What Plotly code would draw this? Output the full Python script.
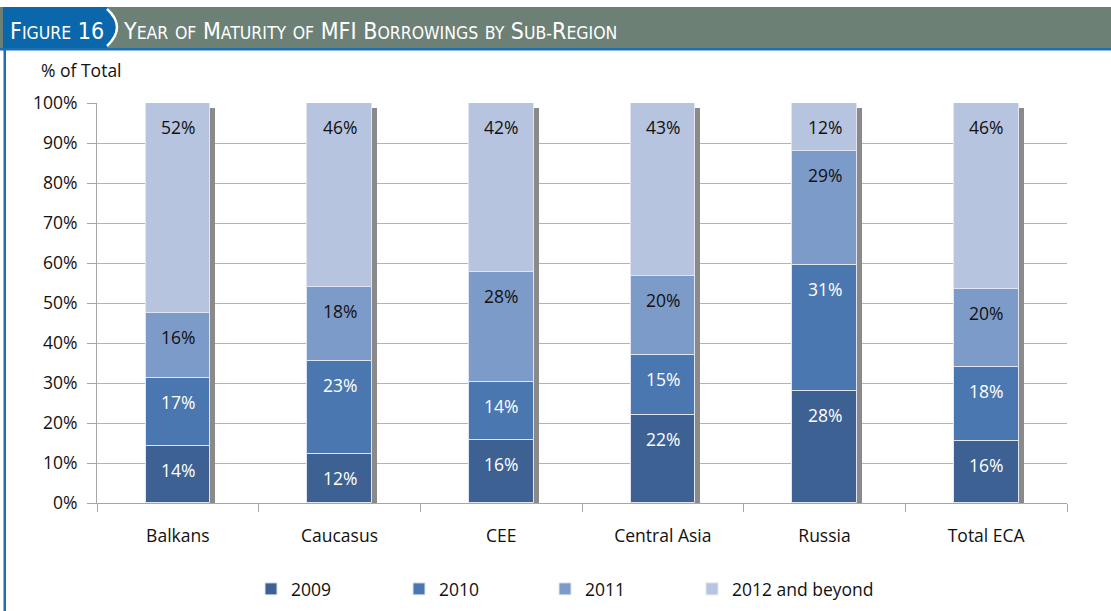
import plotly.graph_objects as go
import numpy as np

categories = ["Balkans", "Caucasus", "CEE", "Central Asia", "Russia", "Total ECA"]
series_names = ["2009", "2010", "2011", "2012 and beyond"]
v2009 = [14.2, 12.3, 15.8, 22.0, 28.0, 15.6]
v2010 = [17.1, 23.2, 14.4, 15.0, 31.4, 18.4]
v2011 = [16.3, 18.4, 27.6, 19.8, 28.6, 19.6]
v2012 = [52.4, 46.1, 42.2, 43.2, 12.0, 46.4]
y_ticks = [0, 10, 20, 30, 40, 50, 60, 70, 80, 90, 100]
y_ticklabels = [f"{t}%" for t in y_ticks]

series = [v2009, v2010, v2011, v2012]
colors = ["#3c6192", "#4a77b0", "#7d9bc9", "#b6c4df"]
text_colors = ["#ffffff", "#ffffff", "#111111", "#111111"]

FONT = "'Open Sans', sans-serif"
FS = 17.5
W, H = 1111, 611
L, R, T, B = 97, 44, 103, 108
pw, ph = W - L - R, H - T - B

def px(x):
    return (x - L) / pw

def py(y):
    return (H - B - y) / ph

fig = go.Figure()

totals = np.sum(np.array(series), axis=0)
bar_w = 0.40
shift = 5 / (pw / len(categories))
# shadow
fig.add_trace(go.Bar(
    x=categories, y=totals - 1.25, width=bar_w, offset=-bar_w / 2 + shift,
    marker=dict(color="#8a8a8a", line=dict(width=0)), showlegend=False, hoverinfo="skip"))

legend_x = [251, 399, 545, 692]
legend_ids = ["legend", "legend2", "legend3", "legend4"]

base = np.zeros(len(categories))
annotations = []
for name, vals, col, tc, lid in zip(series_names, series, colors, text_colors, legend_ids):
    vals = np.array(vals)
    fig.add_trace(go.Bar(
        x=categories, y=vals, base=base, width=bar_w, name=name, legend=lid,
        marker=dict(color=col, line=dict(color="#dfe6f1", width=1))))
    tops = base + vals
    for c, t, v in zip(categories, tops, vals):
        annotations.append(dict(x=c, y=t, xref="x", yref="y", yshift=-24,
                                text=f"{v:.0f}%", showarrow=False,
                                font=dict(family=FONT, size=FS, color=tc)))
    base = tops

# header title (small caps)
BIG, SMALL = 23, 17.5
def sc(word):
    return f"<span style='font-size:{BIG}px'>{word[0]}</span><span style='font-size:{SMALL}px'>{word[1:].upper()}</span>"

title_words = ["Year", "of", "Maturity", "of", "MFI", "Borrowings", "by", "Sub-Region"]
def word_fmt(w):
    if w in ("of", "by"):
        return f"<span style='font-size:{SMALL}px'>{w.upper()}</span>"
    if w == "MFI":
        return f"<span style='font-size:{BIG}px'>MFI</span>"
    if w == "Sub-Region":
        return sc("Sub") + f"<span style='font-size:{SMALL}px'>-</span>" + sc("Region")
    return sc(w)
title_text = " ".join(word_fmt(w) for w in title_words)
fig_text = sc("Figure") + f" <span style='font-size:{BIG}px'>16</span>"

HFONT = "'Liberation Sans Narrow', 'DejaVu Sans Condensed', sans-serif"
annotations += [
    dict(x=px(8), y=py(31), xref="paper", yref="paper", xanchor="left", yanchor="middle",
         text=fig_text, showarrow=False, font=dict(family=HFONT, size=BIG, color="white")),
    dict(x=px(121), y=py(31), xref="paper", yref="paper", xanchor="left", yanchor="middle",
         text=title_text, showarrow=False, font=dict(family=HFONT, size=BIG, color="white")),
    dict(x=px(39), y=py(70), xref="paper", yref="paper", xanchor="left", yanchor="middle",
         text="% of Total", showarrow=False, font=dict(family=FONT, size=FS, color="#111111")),
]

shapes = [
    dict(type="rect", xref="paper", yref="paper", x0=px(0), x1=px(W), y0=py(48), y1=py(7),
         fillcolor="#6c8075", line=dict(width=0), layer="below"),
    dict(type="path", xref="paper", yref="paper",
         path=(f"M {px(3)},{py(7)} L {px(107)},{py(7)} Q {px(127)},{py(27)} {px(107)},{py(48)} "
               f"L {px(3)},{py(48)} Z"),
         fillcolor="#0a67ab", line=dict(width=0), layer="below"),
    dict(type="rect", xref="paper", yref="paper", x0=px(0), x1=px(W), y0=py(50.5), y1=py(48),
         fillcolor="#1a6fb5", line=dict(width=0), layer="below"),
    dict(type="rect", xref="paper", yref="paper", x0=px(3.5), x1=px(6), y0=py(H), y1=py(48),
         fillcolor="#1a6fb5", line=dict(width=0), layer="below"),
    dict(type="path", xref="paper", yref="paper",
         path=f"M {px(107)},{py(9)} Q {px(127)},{py(27)} {px(107)},{py(46)}",
         line=dict(color="white", width=2.5), layer="above"),
]

leg_common = dict(orientation="h", y=py(589), xanchor="left", yanchor="middle",
                  font=dict(family=FONT, size=FS, color="#111111"), bgcolor="rgba(0,0,0,0)")
fig.update_layout(
    width=W, height=H, margin=dict(l=L, r=R, t=T, b=B, autoexpand=False),
    paper_bgcolor="white", plot_bgcolor="white",
    barmode="overlay", bargap=0,
    font=dict(family=FONT, size=FS, color="#111111"),
    annotations=annotations, shapes=shapes,
    showlegend=True,
)
for lid, lx in zip(legend_ids, legend_x):
    fig.update_layout({lid: dict(x=px(lx), **leg_common)})

fig.update_xaxes(type="category", showline=True, linecolor="#a6a6a6", linewidth=1,
                 ticks="outside", tickson="boundaries", ticklen=8, tickcolor="#a6a6a6",
                 showgrid=False, ticklabelstandoff=17, tickfont=dict(size=FS))
fig.update_yaxes(range=[0, 100], tickvals=y_ticks, ticktext=y_ticklabels,
                 showline=True, linecolor="#a6a6a6", linewidth=1,
                 ticks="outside", ticklen=9, tickcolor="#a6a6a6",
                 showgrid=True, gridcolor="#b3b3b3", gridwidth=1, zeroline=False,
                 ticklabelstandoff=6, tickfont=dict(size=FS))

fig.write_html("out.html", config={"displayModeBar": False},
               post_script="document.body.style.margin='0';document.body.style.padding='0';")
